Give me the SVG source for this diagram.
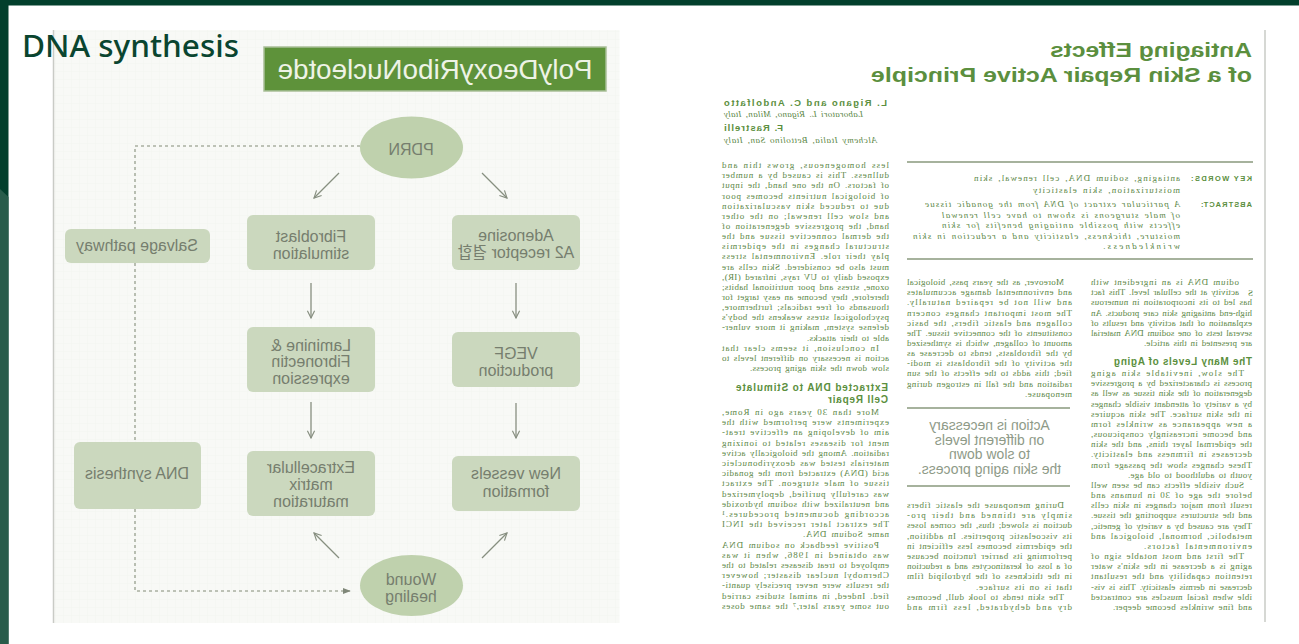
<svg xmlns="http://www.w3.org/2000/svg" width="1299" height="644" viewBox="0 0 1299 644">
<defs>
<style>
.fc{font-family:"Liberation Sans",Arial,"Noto Sans CJK KR",sans-serif;font-size:16px;fill:#767e6e;text-anchor:middle}
.box{fill:#cbd8be}
.ell{fill:#bfd1ad}
.conn{stroke:#878f80;stroke-width:1.3;fill:none;marker-end:url(#ah)}
.dash{stroke:#a9b0a1;stroke-width:1.6;stroke-dasharray:3 3;fill:none;marker-end:url(#ahf)}
.body{font-family:"Liberation Serif","Times New Roman",serif;font-size:9px;word-spacing:1.5px;fill:#5b8746}
.it{font-style:italic}
.hd{font-family:"Liberation Sans",Arial,sans-serif;font-weight:bold;fill:#5b8f3e}
.rule{stroke:#a6b29d;stroke-width:2}
</style>
<marker id="ah" viewBox="0 0 10 10" refX="9" refY="5" markerWidth="9" markerHeight="9" markerUnits="userSpaceOnUse" orient="auto"><path d="M1,1 L9,5 L1,9" fill="none" stroke="#878f80" stroke-width="1.3"/></marker>
<marker id="ahf" viewBox="0 0 10 10" refX="9" refY="5" markerWidth="8" markerHeight="8" markerUnits="userSpaceOnUse" orient="auto"><path d="M0,1 L10,5 L0,9 Z" fill="#7f8778"/></marker>
<pattern id="grid" width="8" height="8" patternUnits="userSpaceOnUse"><path d="M8 0V8H0" fill="none" stroke="#f0f1ec" stroke-width="0.6"/></pattern>
</defs>

<!-- background frame -->
<rect x="0" y="0" width="1299" height="644" fill="#ffffff"/>
<rect x="0" y="0" width="1299" height="5.5" fill="#023f2c"/>
<rect x="0" y="0" width="8.5" height="644" fill="#023f2c"/>
<polygon points="0,189 8.5,197 8.5,644 0,644" fill="#285c4a"/>

<!-- flowchart panel -->
<rect x="53.5" y="30" width="566" height="593" fill="#f8f9f6"/>
<rect x="53.5" y="30" width="566" height="593" fill="url(#grid)"/>
<line x1="53.5" y1="30" x2="53.5" y2="623" stroke="#c9cbc6" stroke-width="1.5"/>

<g id="connectors">
<path class="dash" d="M360,146 H135 V591 H350"/>
<line class="conn" x1="339" y1="173" x2="314" y2="198"/>
<line class="conn" x1="482" y1="173" x2="507" y2="198"/>
<line class="conn" x1="311" y1="283" x2="311" y2="318"/>
<line class="conn" x1="516" y1="283" x2="516" y2="318"/>
<line class="conn" x1="311" y1="402" x2="311" y2="438"/>
<line class="conn" x1="516" y1="403" x2="516" y2="438"/>
<line class="conn" x1="339" y1="558" x2="314" y2="533"/>
<line class="conn" x1="482" y1="558" x2="507" y2="533"/>
</g>

<g id="title-box">
<rect x="264" y="47" width="342" height="44" fill="#5e923a" stroke="#a9bf98" stroke-width="1.5"/>
<text x="435" y="79" transform="matrix(-1 0 0 1 870 0)" font-family="Liberation Sans,Arial,sans-serif" font-size="28" fill="#eef3e6" text-anchor="middle" textLength="315" lengthAdjust="spacingAndGlyphs">PolyDeoxyRiboNucleotde</text>
</g>

<g id="node-pdrn">
<ellipse class="ell" cx="411.5" cy="147.5" rx="51.5" ry="31"/>
<text class="fc" x="411" y="155" transform="matrix(-1 0 0 1 822 0)">PDRN</text>
</g>
<g id="node-fibroblast">
<rect class="box" x="247" y="215" width="128" height="55" rx="6"/>
<text class="fc" transform="matrix(-1 0 0 1 622 0)"><tspan x="311" y="242">Fibroblast</tspan><tspan x="311" y="259">stimulation</tspan></text>
</g>
<g id="node-adenosine">
<rect class="box" x="452" y="215" width="128" height="55" rx="6"/>
<text class="fc" transform="matrix(-1 0 0 1 1032 0)"><tspan x="516" y="241">Adenosine</tspan><tspan x="516" y="258">A2 receptor 결합</tspan></text>
</g>
<g id="node-salvage">
<rect class="box" x="65" y="229" width="145" height="34" rx="6"/>
<text class="fc" x="137" y="251" transform="matrix(-1 0 0 1 274 0)">Salvage pathway</text>
</g>
<g id="node-laminine">
<rect class="box" x="247" y="327" width="128" height="65" rx="6"/>
<text class="fc" transform="matrix(-1 0 0 1 622 0)"><tspan x="311" y="351">Laminine &amp;</tspan><tspan x="311" y="367">Fibronectin</tspan><tspan x="311" y="384">expression</tspan></text>
</g>
<g id="node-vegf">
<rect class="box" x="452" y="332" width="128" height="55" rx="6"/>
<text class="fc" transform="matrix(-1 0 0 1 1032 0)"><tspan x="516" y="359">VEGF</tspan><tspan x="516" y="376">production</tspan></text>
</g>
<g id="node-dna">
<rect class="box" x="74" y="442" width="127" height="67" rx="6"/>
<text class="fc" x="137" y="479" transform="matrix(-1 0 0 1 274 0)">DNA synthesis</text>
</g>
<g id="node-ecm">
<rect class="box" x="247" y="451" width="128" height="65" rx="6"/>
<text class="fc" transform="matrix(-1 0 0 1 622 0)"><tspan x="311" y="473">Extracellular</tspan><tspan x="311" y="490">matrix</tspan><tspan x="311" y="507">maturation</tspan></text>
</g>
<g id="node-vessels">
<rect class="box" x="452" y="456" width="128" height="55" rx="6"/>
<text class="fc" transform="matrix(-1 0 0 1 1032 0)"><tspan x="516" y="479">New vessels</tspan><tspan x="516" y="497">formation</tspan></text>
</g>
<g id="node-wound">
<ellipse class="ell" cx="411.5" cy="585.5" rx="51.5" ry="30.5"/>
<text class="fc" transform="matrix(-1 0 0 1 822 0)"><tspan x="411" y="585">Wound</tspan><tspan x="411" y="602">healing</tspan></text>
</g>

<!-- overlay heading -->
<text x="22" y="57" font-family="Noto Sans,Open Sans,sans-serif" font-size="31.5" font-weight="500" fill="#0a4530">DNA synthesis</text>

<!-- article page (mirrored) -->
<line x1="1265" y1="30" x2="1265" y2="622" stroke="#c9cbc6" stroke-width="1.5"/>
<g id="article" transform="matrix(-1 0 0 1 1299 0)">
<text class="hd" x="47" y="57" font-family="DejaVu Sans,sans-serif" font-size="20" textLength="202" lengthAdjust="spacingAndGlyphs">Antiaging Effects</text>
<text class="hd" x="47" y="82" font-family="DejaVu Sans,sans-serif" font-size="20" textLength="381" lengthAdjust="spacingAndGlyphs">of a Skin Repair Active Principle</text>

<g text-anchor="end">
<text class="hd" x="575" y="106" font-size="9.5" textLength="163">L. Rigano and C. Andolfatto</text>
<text class="body it" x="575" y="117" font-size="7.5" word-spacing="0" textLength="139">Laboratori L. Rigano, Milan, Italy</text>
<text class="hd" x="575" y="131" font-size="9.5" textLength="59">F. Rastrelli</text>
<text class="body it" x="575" y="143" font-size="7.5" word-spacing="0" textLength="153">Alchemy Italia, Bettolino San, Italy</text>
</g>

<line class="rule" x1="46" y1="162" x2="392" y2="162"/>
<line class="rule" x1="46" y1="259" x2="392" y2="259"/>
<text class="hd" x="47" y="181" font-size="7.5" textLength="61">KEY WORDS:</text>
<text class="body" x="119" y="181" textLength="206">antiaging, sodium DNA, cell renewal, skin</text>
<text class="body" x="119" y="193" textLength="147">moisturization, skin elasticity</text>
<text class="hd" x="47" y="207" font-size="7.5" textLength="51">ABSTRACT:</text>
<g class="body it">
<text x="119" y="207" textLength="255">A particular extract of DNA from the gonadic tissue</text>
<text x="119" y="217.5" textLength="238">of male sturgeons is shown to have cell renewal</text>
<text x="119" y="228" textLength="238">effects with possible antiaging benefits for skin</text>
<text x="119" y="238.5" textLength="267">moisture, thickness, elasticity and a reduction in skin</text>
<text x="119" y="249" textLength="77">wrinkledness.</text>
</g>

<!-- column A -->
<text class="body" x="46" y="296" font-size="26">S</text>
<g class="body" lengthAdjust="spacing">
<text x="60" y="285" textLength="148">odium DNA is an ingredient with</text>
<text x="60" y="295.2" textLength="148">activity at the cellular level. This fact</text>
<text x="47" y="305.3" textLength="161">has led to its incorporation in numerous</text>
<text x="47" y="315.5" textLength="161">high-end antiaging skin care products. An</text>
<text x="47" y="325.6" textLength="161">explanation of that activity and results of</text>
<text x="47" y="335.8" textLength="161">several tests of one sodium DNA material</text>
<text x="47" y="346" textLength="108">are presented in this article.</text>
</g>
<text class="hd" x="47" y="365" font-size="10" textLength="138">The Many Levels of Aging</text>
<g class="body" lengthAdjust="spacing">
<text x="55" y="376" textLength="153">The slow, inevitable skin aging</text>
<text x="47" y="386.2" textLength="161">process is characterized by a progressive</text>
<text x="47" y="396.3" textLength="161">degeneration of the skin tissue as well as</text>
<text x="47" y="406.5" textLength="161">by a variety of attendant visible changes</text>
<text x="47" y="416.7" textLength="161">in the skin surface. The skin acquires</text>
<text x="47" y="426.9" textLength="161">a new appearance as wrinkles form</text>
<text x="47" y="437" textLength="161">and become increasingly conspicuous,</text>
<text x="47" y="447.2" textLength="161">the epidermal layer thins, and the skin</text>
<text x="47" y="457.4" textLength="161">decreases in firmness and elasticity.</text>
<text x="47" y="467.5" textLength="161">These changes show the passage from</text>
<text x="47" y="477.7" textLength="124">youth to adulthood to old age.</text>
<text x="55" y="487.9" textLength="153">Such visible effects can be seen well</text>
<text x="47" y="498" textLength="161">before the age of 30 in humans and</text>
<text x="47" y="508.2" textLength="161">result from major changes in skin cells</text>
<text x="47" y="518.4" textLength="161">and the structures supporting the tissue.</text>
<text x="47" y="528.6" textLength="161">They are caused by a variety of genetic,</text>
<text x="47" y="538.7" textLength="161">metabolic, hormonal, biological and</text>
<text x="47" y="548.9" textLength="108">environmental factors.</text>
<text x="55" y="559.1" textLength="153">The first and most notable sign of</text>
<text x="47" y="569.2" textLength="161">aging is a decrease in the skin's water</text>
<text x="47" y="579.4" textLength="161">retention capability and the resultant</text>
<text x="47" y="589.6" textLength="161">decrease in dermis elasticity. This is vis-</text>
<text x="47" y="599.7" textLength="161">ible when facial muscles are contracted</text>
<text x="47" y="609.9" textLength="139">and fine wrinkles become deeper.</text>
</g>

<!-- column B -->
<g class="body" lengthAdjust="spacing">
<text x="235" y="285" textLength="157">Moreover, as the years pass, biological</text>
<text x="227" y="295.2" textLength="165">and environmental damage accumulates</text>
<text x="227" y="305.3" textLength="165">and will not be repaired naturally.</text>
<text x="227" y="315.5" textLength="165">The most important changes concern</text>
<text x="227" y="325.6" textLength="165">collagen and elastic fibers, the basic</text>
<text x="227" y="335.8" textLength="165">constituents of the connective tissue. The</text>
<text x="227" y="345.9" textLength="165">amount of collagen, which is synthesized</text>
<text x="227" y="356.1" textLength="165">by the fibroblasts, tends to decrease as</text>
<text x="227" y="366.2" textLength="165">the activity of the fibroblasts is modi-</text>
<text x="227" y="376.4" textLength="165">fied; this adds to the effects of the sun</text>
<text x="227" y="386.5" textLength="165">radiation and the fall in estrogen during</text>
<text x="227" y="396.7" textLength="47">menopause.</text>
<text x="235" y="508" textLength="157">During menopause the elastic fibers</text>
<text x="227" y="518.2" textLength="165">simply are thinned and their pro-</text>
<text x="227" y="528.4" textLength="165">duction is slowed; thus, the cornea loses</text>
<text x="227" y="538.6" textLength="165">its viscoelastic properties. In addition,</text>
<text x="227" y="548.8" textLength="165">the epidermis becomes less efficient in</text>
<text x="227" y="559" textLength="165">performing its barrier function because</text>
<text x="227" y="569.2" textLength="165">of a loss of keratinocytes and a reduction</text>
<text x="227" y="579.4" textLength="165">in the thickness of the hydrolipid film</text>
<text x="227" y="589.6" textLength="96">that is on its surface.</text>
<text x="235" y="599.8" textLength="157">The skin tends to look dull, becomes</text>
<text x="227" y="610" textLength="165">dry and dehydrated, less firm and</text>
</g>
<line class="rule" x1="229" y1="408" x2="392" y2="408"/>
<line class="rule" x1="229" y1="486" x2="392" y2="486"/>
<g font-family="Liberation Sans,Arial,sans-serif" font-size="14" fill="#8e9a88" text-anchor="middle">
<text x="309.5" y="430">Action is necessary</text>
<text x="309.5" y="445">on different levels</text>
<text x="309.5" y="459">to slow down</text>
<text x="309.5" y="474">the skin aging process.</text>
</g>

<!-- column C -->
<g class="body" lengthAdjust="spacing">
<text x="410" y="168" textLength="167">less homogeneous, grows thin and</text>
<text x="410" y="178.2" textLength="167">dullness. This is caused by a number</text>
<text x="410" y="188.3" textLength="167">of factors. On the one hand, the input</text>
<text x="410" y="198.5" textLength="167">of biological nutrients becomes poor</text>
<text x="410" y="208.6" textLength="167">due to reduced skin vascularization</text>
<text x="410" y="218.8" textLength="167">and slow cell renewal; on the other</text>
<text x="410" y="228.9" textLength="167">hand, the progressive degeneration of</text>
<text x="410" y="239.1" textLength="167">the dermal connective tissue and the</text>
<text x="410" y="249.2" textLength="167">structural changes in the epidermis</text>
<text x="410" y="259.4" textLength="167">play their role. Environmental stress</text>
<text x="410" y="269.5" textLength="167">must also be considered. Skin cells are</text>
<text x="410" y="279.7" textLength="167">exposed daily to UV rays, infrared (IR),</text>
<text x="410" y="289.8" textLength="167">ozone, stress and poor nutritional habits;</text>
<text x="410" y="300" textLength="167">therefore, they become an easy target for</text>
<text x="410" y="310.1" textLength="167">thousands of free radicals; furthermore,</text>
<text x="410" y="320.3" textLength="167">psychological stress weakens the body's</text>
<text x="410" y="330.4" textLength="167">defense system, making it more vulner-</text>
<text x="410" y="340.6" textLength="82">able to their attacks.</text>
<text x="420" y="350.7" textLength="157">In conclusion, it seems clear that</text>
<text x="410" y="360.9" textLength="167">action is necessary on different levels to</text>
<text x="410" y="371" textLength="139">slow down the skin aging process.</text>
</g>
<text class="hd" x="411" y="391" font-size="10" textLength="152">Extracted DNA to Stimulate</text>
<text class="hd" x="411" y="403" font-size="10" textLength="60">Cell Repair</text>
<g class="body" lengthAdjust="spacing">
<text x="420" y="415" textLength="157">More than 30 years ago in Rome,</text>
<text x="410" y="425.2" textLength="167">experiments were performed with the</text>
<text x="410" y="435.4" textLength="167">aim of developing an effective treat-</text>
<text x="410" y="445.6" textLength="167">ment for diseases related to ionizing</text>
<text x="410" y="455.8" textLength="167">radiation. Among the biologically active</text>
<text x="410" y="466" textLength="167">materials tested was deoxyribonucleic</text>
<text x="410" y="476.2" textLength="167">acid (DNA) extracted from the gonadic</text>
<text x="410" y="486.4" textLength="167">tissue of male sturgeon. The extract</text>
<text x="410" y="496.6" textLength="167">was carefully purified, depolymerized</text>
<text x="410" y="506.8" textLength="167">and neutralized with sodium hydroxide</text>
<text x="410" y="517" textLength="167">according documented procedures.¹</text>
<text x="410" y="527.2" textLength="167">The extract later received the INCI</text>
<text x="410" y="537.4" textLength="86">name Sodium DNA.</text>
<text x="420" y="547.6" textLength="157">Positive feedback on sodium DNA</text>
<text x="410" y="557.8" textLength="167">was obtained in 1986, when it was</text>
<text x="410" y="568" textLength="167">employed to treat diseases related to the</text>
<text x="410" y="578.2" textLength="167">Chernobyl nuclear disaster; however</text>
<text x="410" y="588.4" textLength="167">the results were never precisely quanti-</text>
<text x="410" y="598.6" textLength="167">fied. Indeed, in animal studies carried</text>
<text x="410" y="608.8" textLength="167">out some years later,⁷ the same doses</text>
</g>
</g>
</svg>
